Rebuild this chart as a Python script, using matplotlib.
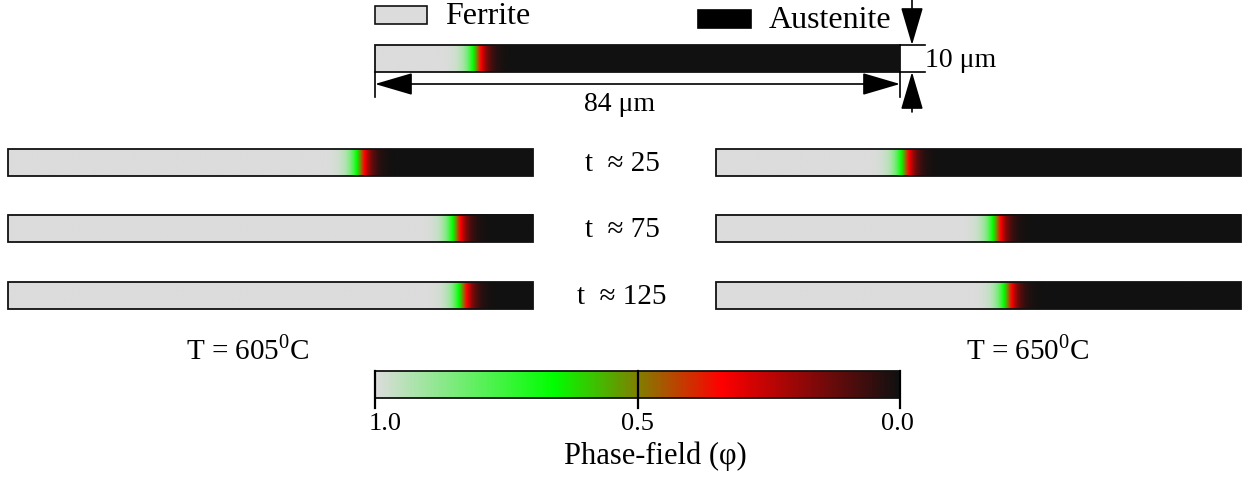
import matplotlib
matplotlib.use("Agg")
import matplotlib.pyplot as plt
import numpy as np
from matplotlib.colors import LinearSegmentedColormap
from matplotlib.patches import Rectangle, FancyArrowPatch

plt.rcParams['font.family'] = ['Liberation Serif', 'DejaVu Serif']
plt.rcParams['mathtext.fontset'] = 'custom'
plt.rcParams['mathtext.rm'] = 'Liberation Serif'

# data: interface position (fraction of domain length)
domain_len = 84          # um
domain_wid = 10          # um
interface_init = 0.194
times = [25, 75, 125]
interface_605 = [0.672, 0.855, 0.867]
interface_650 = [0.360, 0.535, 0.556]
temps = [605, 650]
cbar_ticks = [1.0, 0.5, 0.0]
interface_width = 1.9    # um, diffuse interface thickness

# colour map of phase field: 0 austenite (black) -> 1 ferrite (grey)
cmap = LinearSegmentedColormap.from_list(
    "pf", [(0.0, "#111111"), (0.34, "#ff0000"), (0.5, "#808000"),
           (0.66, "#00ff00"), (1.0, "#dcdcdc")])

fig = plt.figure(figsize=(12.5, 4.78), dpi=100)
ax = fig.add_axes([0, 0, 1, 1])
ax.set_xlim(0, 1250)
ax.set_ylim(478, 0)
ax.axis("off")

L = 525.0   # strip length in px
H = 27.0    # strip height in px


def strip(x0, y0, frac):
    x = np.linspace(0, domain_len, 800)
    xi = frac * domain_len
    phi = 0.5 * (1 - np.tanh((x - xi) / interface_width))
    ax.imshow(phi[None, :], cmap=cmap, vmin=0, vmax=1, aspect="auto",
              extent=(x0, x0 + L, y0 + H, y0), interpolation="bilinear")
    ax.add_patch(Rectangle((x0, y0), L, H, fill=False, ec="#111111", lw=1.3))


def arrow(p0, p1, style="-|>"):
    ax.add_patch(FancyArrowPatch(p0, p1,
                                 arrowstyle=style + ",head_length=1.7,head_width=0.5",
                                 mutation_scale=14, color="k", lw=1.2,
                                 shrinkA=0, shrinkB=0))


fs = 21

# initial configuration
strip(375, 45, interface_init)
ax.add_patch(Rectangle((375, 6), 52, 18, fc="#dcdcdc", ec="#111111", lw=1.2))
ax.text(445, 16, "Ferrite", fontsize=23, va="center", ha="left")
ax.add_patch(Rectangle((698, 10), 53, 18, fc="#000000", ec="#000000", lw=1.2))
ax.text(769, 20, "Austenite", fontsize=23, va="center", ha="left")

# length dimension
ax.plot([375, 375], [72, 97], color="k", lw=1.2)
ax.plot([900, 900], [72, 97], color="k", lw=1.2)
arrow((375, 84), (900, 84), "<|-|>")
ax.text(620, 104, f"{domain_len} \u03bcm", fontsize=20, ha="center", va="center")

# width dimension
ax.plot([900, 925], [45, 45], color="k", lw=1.2)
ax.plot([900, 925], [72, 72], color="k", lw=1.2)
arrow((912, 0), (912, 45))
arrow((912, 112), (912, 72))
ax.text(925, 60, f"{domain_wid} \u03bcm", fontsize=20, ha="left", va="center")

# time series
rows_y = [149, 215, 282]
for y, t, f1, f2 in zip(rows_y, times, interface_605, interface_650):
    strip(8, y, f1)
    strip(716, y, f2)
    ax.text(622, y + 15, f"t  \u2248 {t}", fontsize=fs, ha="center", va="center")

ax.text(248, 350, rf"T = {temps[0]}$^\mathrm{{0}}$C", fontsize=fs, ha="center", va="center")
ax.text(1028, 350, rf"T = {temps[1]}$^\mathrm{{0}}$C", fontsize=fs, ha="center", va="center")

# colour bar
cb = np.linspace(1, 0, 600)
ax.imshow(cb[None, :], cmap=cmap, vmin=0, vmax=1, aspect="auto",
          extent=(375, 900, 398, 371), interpolation="bilinear")
ax.add_patch(Rectangle((375, 371), 525, 27, fill=False, ec="#111111", lw=1.3))
for v in cbar_ticks:
    xt = 375 + (1 - v) * 525
    ax.plot([xt, xt], [371, 408], color="k", lw=1.6)
    ax.text(xt + (10 if v == 1.0 else -3 if v == 0.0 else 0), 424, f"{v:.1f}",
            fontsize=19, ha="center", va="center")
ax.text(655, 456, "Phase-field (\u03c6)", fontsize=22, ha="center", va="center")

plt.savefig("out.png", dpi=100)
